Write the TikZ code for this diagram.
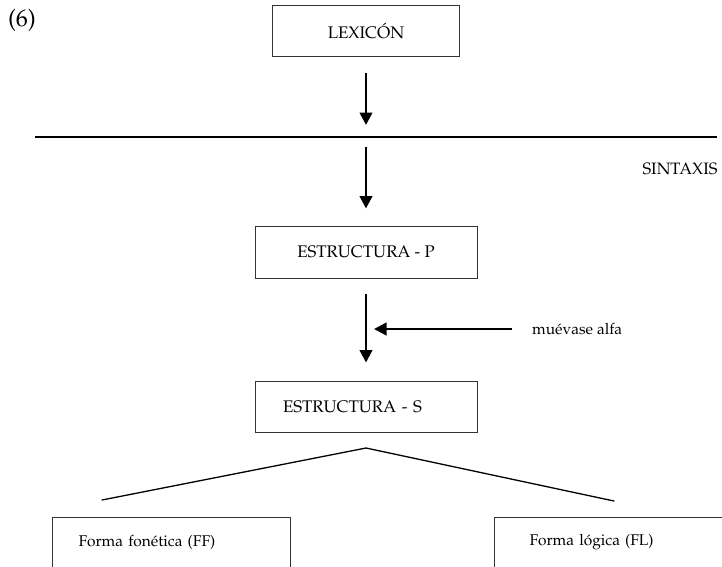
\documentclass[tikz,border=0pt]{standalone}
\usepackage[T1]{fontenc}
\usepackage{mathpazo}
\usepackage{tikz}
\usetikzlibrary{arrows.meta}
\tikzset{
  box/.style={draw=black!80, line width=1pt, minimum width=222pt, minimum height=52pt, inner sep=0pt, font=\fontsize{16.8}{19}\selectfont},
  arr/.style={draw=black, line width=2.6pt, -{Triangle[length=12.5pt,width=12.5pt]}},
  tree/.style={draw=black, line width=1.3pt, line cap=round},
  rule/.style={draw=black, line width=1.4pt},
  lab/.style={font=\fontsize{16.5}{19}\selectfont, inner sep=0pt},
  labs/.style={font=\fontsize{15.5}{18}\selectfont, inner sep=0pt},
}

\begin{document}
\begin{tikzpicture}[x=1pt,y=-1pt]
  \useasboundingbox (0,0) rectangle (722,566);
  % number of the example
  \node[lab, font=\fontsize{24}{28}\selectfont] (num) at (22,20) {(6)};
  % lexicon and the syntax line
  \node[box, minimum width=187pt, minimum height=51pt] (lex) at (366,30.5) {LEXIC\'ON};
  \coordinate (ruleW) at (35,137);
  \coordinate (ruleE) at (717,137);
  \coordinate (cut) at (366,137);
  \draw[rule] (ruleW) -- (ruleE);
  \node[lab] (sint) at (680,169) {SINTAXIS};
  % the two levels
  \node[box] (estp) at (366,252) {ESTRUCTURA - P};
  \node[box, minimum height=51pt, inner xsep=28pt, text width=166pt, align=left] (ests) at (366,406.5) {ESTRUCTURA - S};
  \draw[arr, shorten <=16pt, shorten >=12pt] (lex) -- (cut);
  \draw[arr, shorten <=10pt, shorten >=17pt] (cut) -- (estp);
  \draw[arr, shorten <=15pt, shorten >=18pt] (estp) -- (ests);
  % move alpha
  \node[labs, anchor=west] (alfa) at (532,329) {mu\'evase alfa};
  \coordinate (hit) at (374,329);
  \draw[arr] ([xshift=-20pt]alfa.west) -- (hit);
  % the two interfaces
  \coordinate (apex) at (366,448);
  \coordinate (ffend) at (102,500);
  \coordinate (flend) at (614,501);
  \draw[tree] (ffend) -- (apex) -- (flend);
  \node[box, labs, draw=black!80, anchor=north west, minimum width=238pt, minimum height=50pt, inner xsep=26pt, text width=186pt, align=left] (ff) at (52,517) {Forma fon\'etica (FF)};
  \node[box, labs, draw=black!80, anchor=north west, minimum width=260pt, minimum height=50pt, inner xsep=35pt, text width=190pt, align=left] (fl) at (494,517) {Forma l\'ogica (FL)};
\end{tikzpicture}
\end{document}
